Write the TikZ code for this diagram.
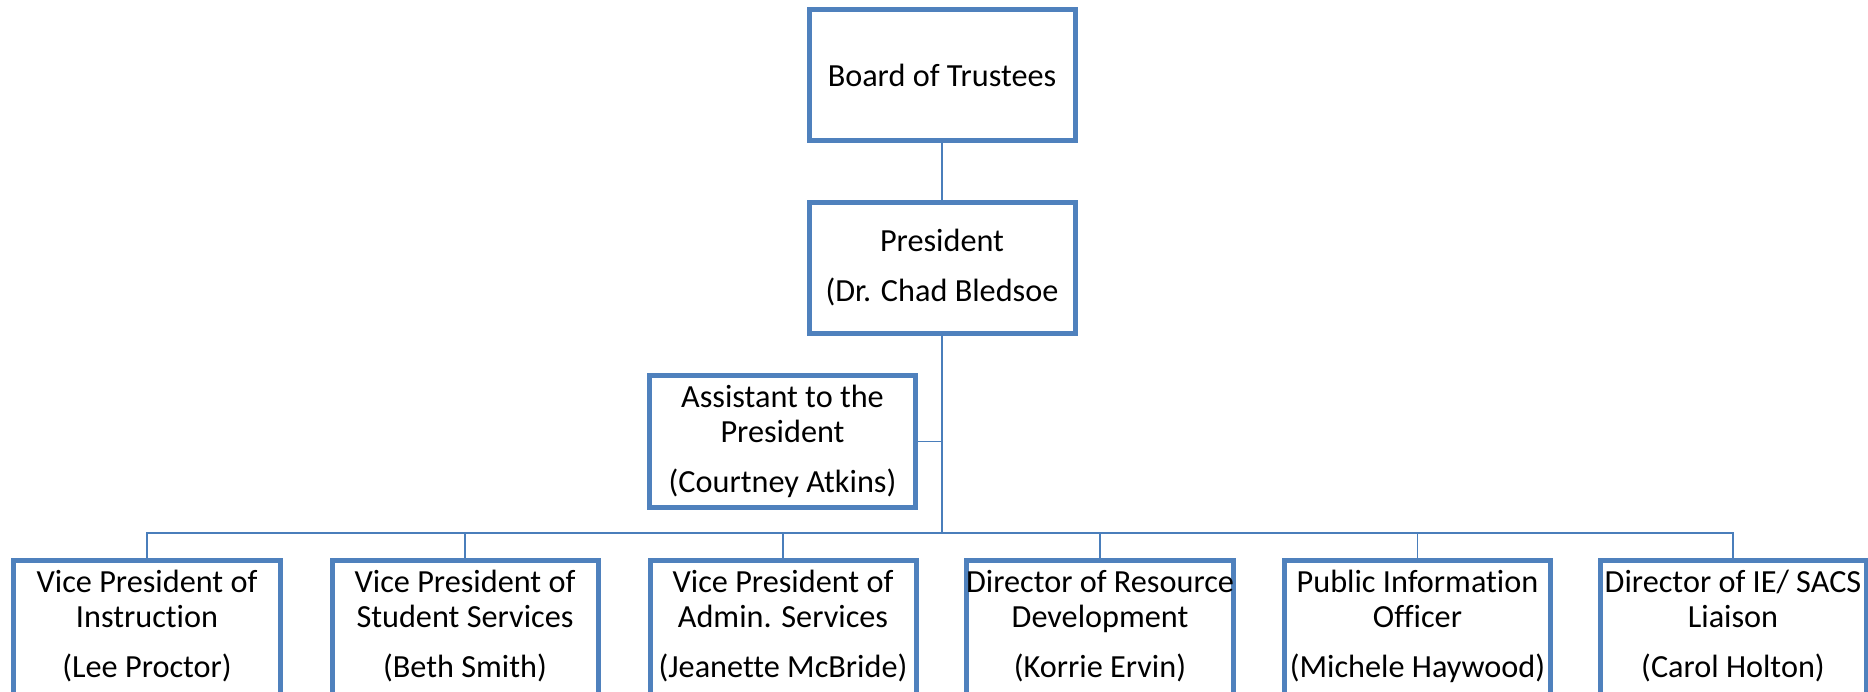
\documentclass[tikz,border=0pt]{standalone}
\usepackage{fontspec}
\setmainfont{Carlito}[Ligatures={NoCommon}]
\definecolor{boxblue}{HTML}{4F81BD}
\definecolor{lineblue}{HTML}{4A7EBB}
\newcommand{\lowpad}{\rule[-5.2pt]{0pt}{0pt}}
\begin{document}
\begin{tikzpicture}[x=0.4pt,y=-0.4pt,
  orgbox/.style={draw=boxblue, line width=2pt, fill=white, minimum width=106.4pt,
    minimum height=52.4pt, align=center, inner sep=0pt,
    font=\fontsize{12.9pt}{14pt}\selectfont},
  lowbox/.style={orgbox, anchor=north, minimum height=56pt},
  conn/.style={draw=lineblue, line width=0.75pt}]
\clip (0,0) rectangle (1868,692);
\fill[white] (0,0) rectangle (1868,692);
\node[orgbox] (board) at (942,75) {Board of Trustees};
\node[orgbox] (pres) at (942,268) {President\\[6pt](Dr. Chad Bledsoe};
\node[orgbox] (asst) at (782.5,441.5) {Assistant to the\\President\\[6pt](Courtney Atkins)};
\coordinate (bus) at (942,533);
\node[lowbox] (b1) at (147,558) {Vice President of\\Instruction\\[6pt](Lee Proctor)\lowpad};
\node[lowbox] (b2) at (465,558) {Vice President of\\Student Services\\[6pt](Beth Smith)\lowpad};
\node[lowbox] (b3) at (783,558) {Vice President of\\Admin. Services\\[6pt](Jeanette McBride)\lowpad};
\node[lowbox] (b4) at (1100,558) {Director of Resource\\Development\\[6pt](Korrie Ervin)\lowpad};
\node[lowbox] (b5) at (1417.5,558) {Public Information\\Officer\\[6pt](Michele Haywood)\lowpad};
\node[lowbox] (b6) at (1733,558) {Director of IE/ SACS\\Liaison\\[6pt](Carol Holton)\lowpad};
\draw[conn] (board.south) -- (pres.north);
\draw[conn] (pres.south) -- (bus);
\draw[conn] (asst.east) -- (asst.east -| bus);
\foreach \b in {b1,b2,b3,b4,b5,b6} {\draw[conn] (bus) -| (\b.north);}
\end{tikzpicture}
\end{document}
